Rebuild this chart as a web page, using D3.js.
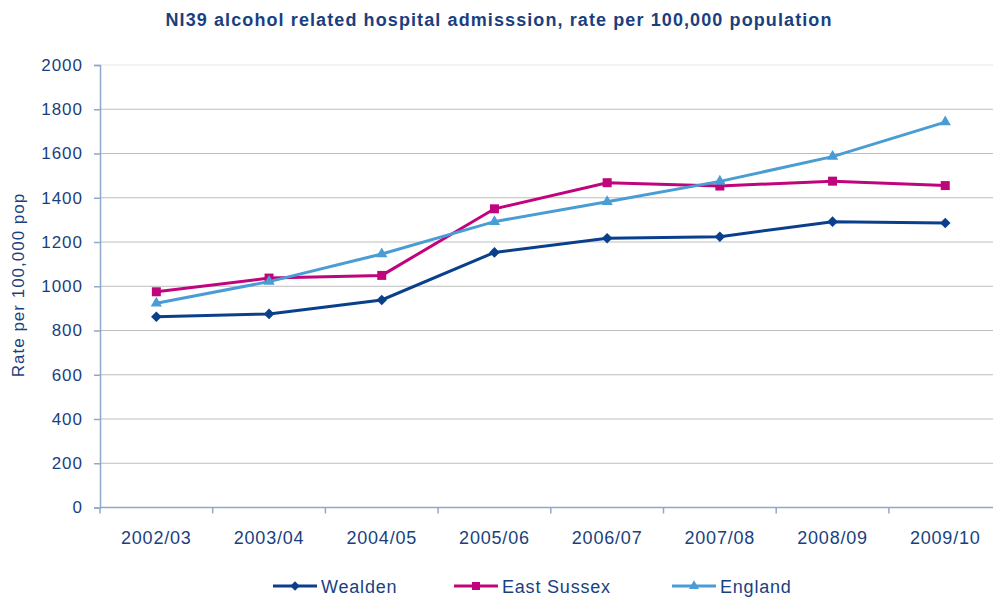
<!DOCTYPE html>
<html>
<head>
<meta charset="utf-8">
<script src="https://cdn.jsdelivr.net/npm/d3@7"></script>
<style>
  html, body { margin: 0; padding: 0; background: #fff; }
  svg { display: block; font-family: "Liberation Sans", Arial, sans-serif; }
</style>
</head>
<body>
<svg id="chart" width="993" height="598"></svg>
<script>
// Financial years on the x axis
const years = ["2002/03", "2003/04", "2004/05", "2005/06", "2006/07", "2007/08", "2008/09", "2009/10"];

// Admission rates per 100,000 population
const wealden = [862, 875, 938, 1153, 1217, 1224, 1292, 1286];
const eastSussex = [975, 1037, 1049, 1350, 1468, 1453, 1475, 1455];
const england = [923, 1021, 1146, 1292, 1382, 1474, 1586, 1742];

const yTicks = [0, 200, 400, 600, 800, 1000, 1200, 1400, 1600, 1800, 2000];

// Diamond drawn as a square turned 45 degrees
const seriesList = [
  { name: "Wealden", values: wealden, color: "#0A3F8C", shape: d3.symbolSquare, size: 56, rot: 45 },
  { name: "East Sussex", values: eastSussex, color: "#C0047C", shape: d3.symbolSquare, size: 81, rot: 0 },
  { name: "England", values: england, color: "#4A9DD4", shape: d3.symbolTriangle, size: 55, rot: 0 }
];

const textColor = "#1A3F80";
const axisColor = "#8FA9CC";
const gridColor = "#BDBDBD";

const svg = d3.select("#chart");
const x0 = 100, x1 = 100 + 8 * 112.7;
const yTop = 65, yBottom = 507.5;

const x = d3.scaleBand().domain(years).range([x0, x1]).paddingInner(0).paddingOuter(0);
const y = d3.scaleLinear().domain([0, 2000]).range([yBottom, yTop]);
const cx = d => x(d) + x.bandwidth() / 2;

// Title
svg.append("text")
  .attr("x", 499).attr("y", 26)
  .attr("text-anchor", "middle")
  .attr("fill", textColor)
  .attr("font-weight", "bold")
  .attr("font-size", 18)
  .attr("letter-spacing", 1.1)
  .text("NI39 alcohol related hospital admisssion, rate per 100,000 population");

// Horizontal gridlines
svg.append("g")
  .selectAll("line")
  .data(yTicks.filter(t => t > 0))
  .join("line")
  .attr("x1", x0).attr("x2", x1)
  .attr("y1", d => y(d)).attr("y2", d => y(d))
  .attr("stroke", d => d === 2000 ? "#E6E6E6" : gridColor)
  .attr("stroke-width", 1);

// Y axis
const yAxis = svg.append("g")
  .attr("transform", `translate(${x0},0)`)
  .call(d3.axisLeft(y).tickValues(yTicks).tickSize(6).tickPadding(11).tickFormat(d3.format("d")));
yAxis.select(".domain").attr("stroke", axisColor).attr("stroke-width", 1.5);
yAxis.selectAll(".tick line").attr("stroke", axisColor).attr("stroke-width", 1.5);
yAxis.selectAll(".tick text")
  .attr("fill", textColor)
  .attr("font-size", 17)
  .attr("letter-spacing", 1)
  .attr("font-family", "Liberation Sans, Arial, sans-serif");

// X axis with ticks on category boundaries
const xAxis = svg.append("g")
  .attr("transform", `translate(0,${yBottom})`);
xAxis.append("line")
  .attr("x1", x0).attr("x2", x1)
  .attr("stroke", axisColor).attr("stroke-width", 1.5);
xAxis.selectAll("line.tk")
  .data(years.concat(["end"]))
  .join("line")
  .attr("class", "tk")
  .attr("x1", (d, i) => x0 + i * x.bandwidth())
  .attr("x2", (d, i) => x0 + i * x.bandwidth())
  .attr("y1", 0).attr("y2", 6)
  .attr("stroke", axisColor).attr("stroke-width", 1.5);
xAxis.selectAll("text")
  .data(years)
  .join("text")
  .attr("x", d => cx(d))
  .attr("y", 36)
  .attr("text-anchor", "middle")
  .attr("fill", textColor)
  .attr("font-size", 18)
  .attr("letter-spacing", 0.8)
  .text(d => d);

// Y axis title
svg.append("text")
  .attr("transform", "translate(24,285) rotate(-90)")
  .attr("text-anchor", "middle")
  .attr("fill", textColor)
  .attr("font-size", 17)
  .attr("letter-spacing", 1)
  .text("Rate per 100,000 pop");

// Series lines and markers
const line = d3.line().x((d, i) => cx(years[i])).y(d => y(d));

seriesList.forEach(s => {
  const g = svg.append("g");
  g.append("path")
    .datum(s.values)
    .attr("d", line)
    .attr("fill", "none")
    .attr("stroke", s.color)
    .attr("stroke-width", 3);
  g.selectAll("path.m")
    .data(s.values)
    .join("path")
    .attr("class", "m")
    .attr("transform", (d, i) => `translate(${cx(years[i])},${y(d)}) rotate(${s.rot})`)
    .attr("d", d3.symbol().type(s.shape).size(s.size))
    .attr("fill", s.color);
});

// Legend
const legendItems = [
  { s: seriesList[0], lx: 273 },
  { s: seriesList[1], lx: 454 },
  { s: seriesList[2], lx: 672 }
];
const lg = svg.append("g");
legendItems.forEach(({ s, lx }) => {
  const ly = 586;
  lg.append("line")
    .attr("x1", lx).attr("x2", lx + 44)
    .attr("y1", ly).attr("y2", ly)
    .attr("stroke", s.color).attr("stroke-width", 3);
  lg.append("path")
    .attr("transform", `translate(${lx + 22},${ly}) rotate(${s.rot})`)
    .attr("d", d3.symbol().type(s.shape).size(s.size * 0.8))
    .attr("fill", s.color);
  lg.append("text")
    .attr("x", lx + 48).attr("y", ly + 6.5)
    .attr("fill", textColor)
    .attr("font-size", 18)
    .attr("letter-spacing", 0.8)
    .text(s.name);
});
</script>
</body>
</html>
